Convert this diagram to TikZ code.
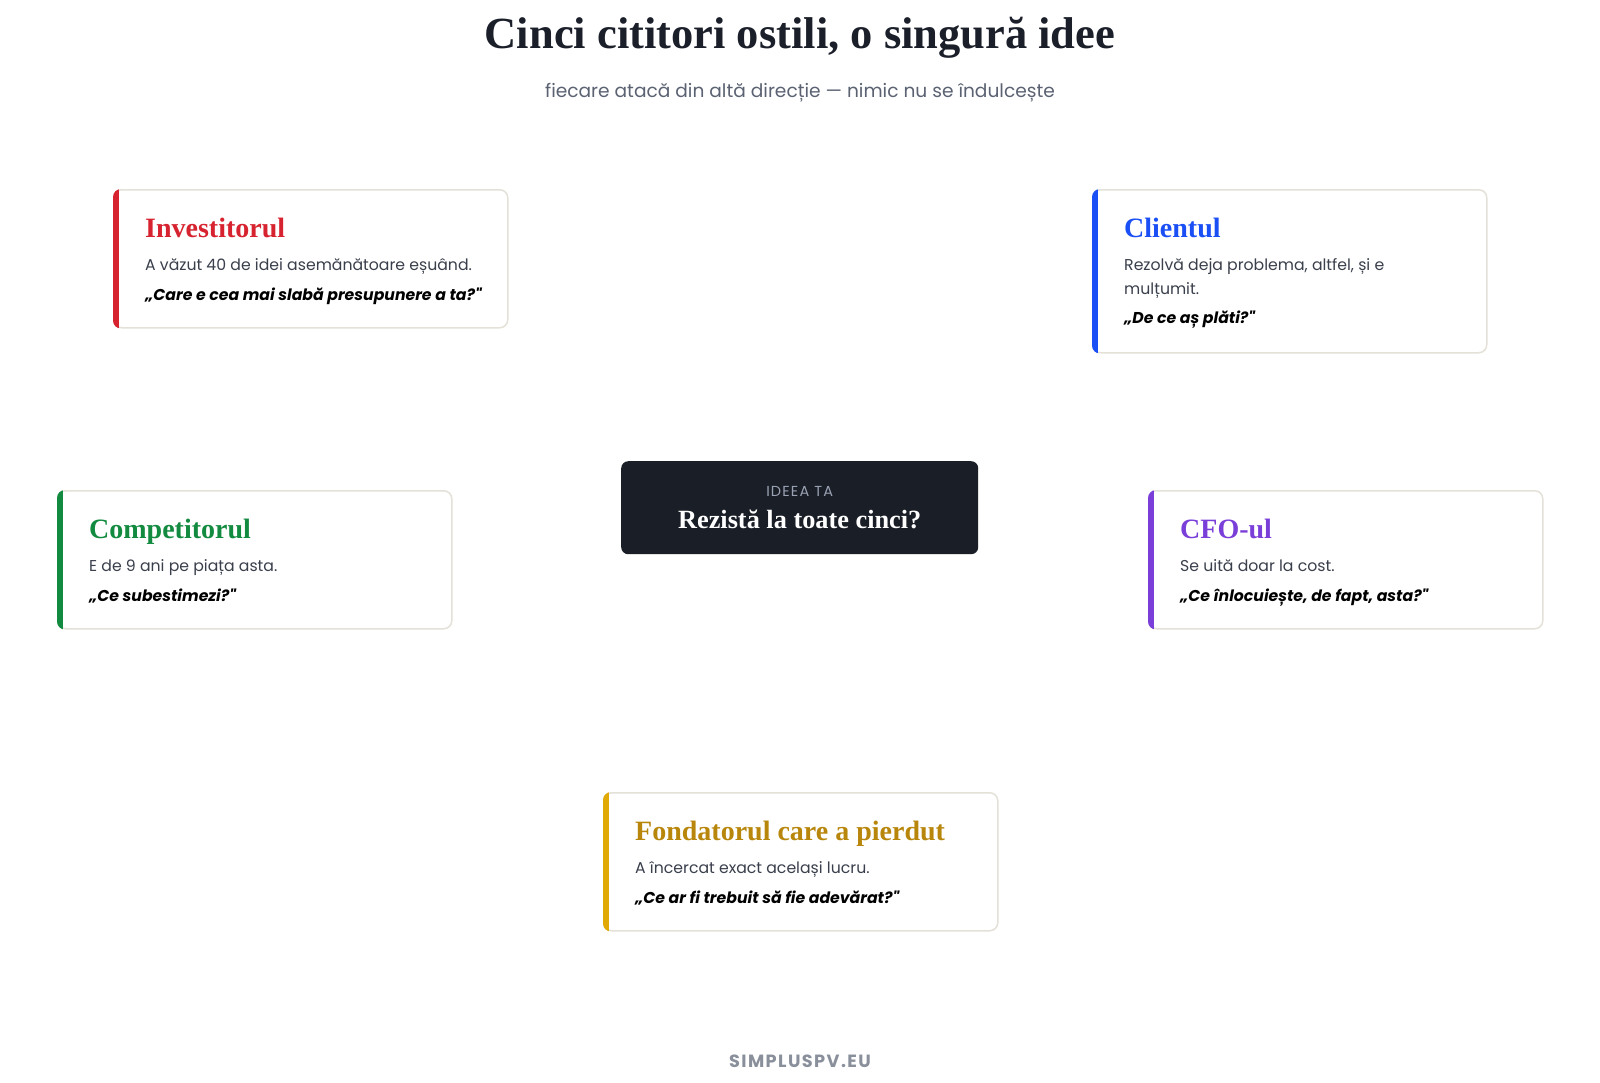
\documentclass[tikz,border=0pt]{standalone}
\usepackage{fontspec}
\setmainfont{Poppins}
\newfontfamily\serifb{Liberation Serif}
\newfontfamily\sansb{Poppins}
\definecolor{ink}{HTML}{1B1F2A}
\definecolor{bodyc}{HTML}{3A3F4C}
\definecolor{subc}{HTML}{5B6272}
\definecolor{edgec}{HTML}{E4E1D8}
\definecolor{cred}{HTML}{D7232F}
\definecolor{cblue}{HTML}{1A4FF5}
\definecolor{cgreen}{HTML}{128A3F}
\definecolor{cpurple}{HTML}{7B3FD9}
\definecolor{cgold}{HTML}{B8860B}
\definecolor{bargold}{HTML}{E1A906}
\definecolor{darkc}{HTML}{1A1E27}
\definecolor{labelc}{HTML}{9AA2B3}
\definecolor{footc}{HTML}{8A909B}
\tikzset{
  cardbox/.style={draw=edgec, line width=1.5pt, fill=white, rounded corners=8pt,
    minimum width=394pt, inner sep=0pt, anchor=north west},
  cardtitle/.style={anchor=base west, inner sep=0pt, font=\serifb\bfseries\fontsize{28}{32}\selectfont},
  cardbody/.style={anchor=base west, inner sep=0pt, text=bodyc, font=\sansb\fontsize{15.7}{20}\selectfont},
  cardquote/.style={anchor=base west, inner sep=0pt, text=black, font=\sansb\bfseries\itshape\fontsize{15.7}{20}\selectfont},
}
\newcommand\mycard[5]{% name, x, y, height, barcolor
  \node[cardbox, minimum height=#4pt] (#1) at (#2,#3) {};
  \begin{scope}
    \clip[rounded corners=8pt] (#1.north west) rectangle (#1.south east);
    \fill[#5] ([xshift=-1pt,yshift=1pt]#1.north west) rectangle ([xshift=6pt,yshift=-1pt]#1.south west);
  \end{scope}
}
\begin{document}
\begin{tikzpicture}[x=1pt,y=-1pt]
\useasboundingbox[fill=white] (0,0) rectangle (1600,1082);

% header
\node[anchor=base, inner sep=0pt, text=ink, font=\serifb\bfseries\fontsize{44.5}{50}\selectfont] (title) at (800,48) {Cinci cititori ostili, o singură idee};
\node[anchor=base, inner sep=0pt, text=subc, font=\sansb\fontsize{18.6}{22}\selectfont] (subtitle) at (800,97) {fiecare atacă din altă direcție — nimic nu se îndulcește};

% Investitorul
\mycard{inv}{113}{189}{138}{cred}
\node[cardtitle, text=cred] (invT) at ([xshift=32pt,yshift=-48pt]inv.north west) {Investitorul};
\node[cardbody] (invB) at ([xshift=32pt,yshift=-81pt]inv.north west) {A văzut 40 de idei asemănătoare eșuând.};
\node[cardquote] (invQ) at ([xshift=32pt,yshift=-111pt]inv.north west) {„Care e cea mai slabă presupunere a ta?"};

% Clientul
\mycard{cli}{1092}{189}{163}{cblue}
\node[cardtitle, text=cblue] (cliT) at ([xshift=32pt,yshift=-48pt]cli.north west) {Clientul};
\node[cardbody] (cliB1) at ([xshift=32pt,yshift=-81pt]cli.north west) {Rezolvă deja problema, altfel, și e};
\node[cardbody] (cliB2) at ([xshift=32pt,yshift=-105pt]cli.north west) {mulțumit.};
\node[cardquote] (cliQ) at ([xshift=32pt,yshift=-134pt]cli.north west) {„De ce aș plăti?"};

% Competitorul
\mycard{comp}{57}{490}{138}{cgreen}
\node[cardtitle, text=cgreen] (compT) at ([xshift=32pt,yshift=-48pt]comp.north west) {Competitorul};
\node[cardbody] (compB) at ([xshift=32pt,yshift=-81pt]comp.north west) {E de 9 ani pe piața asta.};
\node[cardquote] (compQ) at ([xshift=32pt,yshift=-111pt]comp.north west) {„Ce subestimezi?"};

% CFO-ul
\mycard{cfo}{1148}{490}{138}{cpurple}
\node[cardtitle, text=cpurple] (cfoT) at ([xshift=32pt,yshift=-48pt]cfo.north west) {CFO-ul};
\node[cardbody] (cfoB) at ([xshift=32pt,yshift=-81pt]cfo.north west) {Se uită doar la cost.};
\node[cardquote] (cfoQ) at ([xshift=32pt,yshift=-111pt]cfo.north west) {„Ce înlocuiește, de fapt, asta?"};

% Fondatorul
\mycard{fond}{603}{792}{138}{bargold}
\node[cardtitle, text=cgold] (fondT) at ([xshift=32pt,yshift=-48pt]fond.north west) {Fondatorul care a pierdut};
\node[cardbody] (fondB) at ([xshift=32pt,yshift=-81pt]fond.north west) {A încercat exact același lucru.};
\node[cardquote] (fondQ) at ([xshift=32pt,yshift=-111pt]fond.north west) {„Ce ar fi trebuit să fie adevărat?"};

% center
\node[fill=darkc, rounded corners=7pt, minimum width=357pt, minimum height=93pt, inner sep=0pt, anchor=north west] (idea) at (621,461) {};
\node[anchor=base, inner sep=0pt, text=labelc, font=\sansb\fontsize{14.5}{17}\selectfont\addfontfeatures{LetterSpace=8}] (ideaL) at ([yshift=-35pt]idea.north) {IDEEA TA};
\node[anchor=base, inner sep=0pt, text=white, font=\serifb\bfseries\fontsize{26.3}{30}\selectfont] (ideaT) at ([yshift=-67pt]idea.north) {Rezistă la toate cinci?};

% footer
\node[anchor=base, inner sep=0pt, text=footc, font=\sansb\bfseries\fontsize{17.7}{20}\selectfont\addfontfeatures{LetterSpace=8}] (foot) at (800,1067) {SIMPLUSPV.EU};
\end{tikzpicture}
\end{document}
